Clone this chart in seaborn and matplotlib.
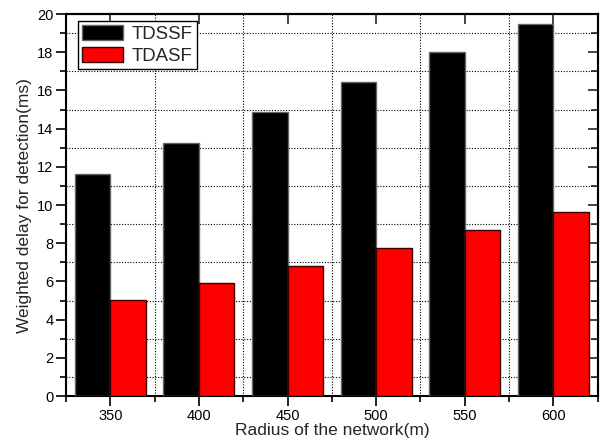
import matplotlib
matplotlib.use("Agg")
import matplotlib.pyplot as plt
from matplotlib.ticker import MultipleLocator, FixedLocator
import seaborn as sns
import pandas as pd

# Detection delay per network radius for the two schemes
radius = [350, 400, 450, 500, 550, 600]
tdssf = [11.62, 13.26, 14.85, 16.46, 18.0, 19.46]
tdasf = [5.03, 5.92, 6.81, 7.73, 8.67, 9.65]
series_names = ["TDSSF", "TDASF"]
series_colors = ["#000000", "#ff0000"]
edge_colors = ["#666666", "#3a0000"]
y_ticks = [0, 2, 4, 6, 8, 10, 12, 14, 16, 18, 20]

df = pd.DataFrame({
    "radius": radius * 2,
    "delay": tdssf + tdasf,
    "scheme": [series_names[0]] * len(radius) + [series_names[1]] * len(radius),
})

sns.set_style("white")
plt.rcParams["font.family"] = ["Liberation Sans", "DejaVu Sans"]

fig = plt.figure(figsize=(6.05, 4.41), dpi=100)
ax = fig.add_axes([0.109, 0.102, 0.879, 0.866])

sns.barplot(data=df, x="radius", y="delay", hue="scheme", hue_order=series_names,
            palette=series_colors, native_scale=True, width=0.8, gap=0,
            saturation=1, errorbar=None, ax=ax, legend=True)

for cont, ec in zip(ax.containers, edge_colors):
    for bar in cont:
        bar.set_edgecolor(ec)
        bar.set_linewidth(1.0)
        bar.set_zorder(3)

ax.set_xlim(325, 625)
ax.set_ylim(0, 20)
ax.xaxis.set_major_locator(FixedLocator(radius))
ax.xaxis.set_minor_locator(FixedLocator([r + 25 for r in radius[:-1]] + [325, 625]))
ax.yaxis.set_major_locator(FixedLocator(y_ticks))
ax.yaxis.set_minor_locator(FixedLocator([v + 1 for v in y_ticks[:-1]]))
ax.set_xticklabels([str(r) for r in radius])

# dotted grid on the minor positions
ax.grid(False)
ax.grid(True, which="minor", color="black", linestyle=(0, (1, 1.5)), linewidth=0.8, zorder=1)
ax.set_axisbelow(True)

for s in ax.spines.values():
    s.set_visible(True)
    s.set_color("black")
    s.set_linewidth(1.5)

ax.tick_params(axis="both", which="both", colors="black", labelsize=10.5, width=1.2)
ax.tick_params(axis="x", which="major", direction="out", length=7, bottom=True, top=False, pad=2.5)
ax.tick_params(axis="x", which="minor", direction="out", length=4, bottom=True, top=False)
ax.tick_params(axis="y", which="major", direction="out", length=7, left=True, right=False, pad=2)
ax.tick_params(axis="y", which="minor", direction="out", length=4, left=True, right=False)

# top and right edges carry inward ticks
sec_x = ax.secondary_xaxis("top")
sec_x.xaxis.set_major_locator(FixedLocator(radius))
sec_x.tick_params(direction="in", length=7, width=1.2, labeltop=False)
sec_y = ax.secondary_yaxis("right")
sec_y.yaxis.set_major_locator(FixedLocator(y_ticks))
sec_y.yaxis.set_minor_locator(MultipleLocator(1))
sec_y.tick_params(which="major", direction="in", length=7, width=1.2, labelright=False)
sec_y.tick_params(which="minor", direction="in", length=5, width=1.2)
for s in list(sec_x.spines.values()) + list(sec_y.spines.values()):
    s.set_linewidth(1.5)

ax.set_xlabel("Radius of the network(m)", fontsize=12.5, labelpad=0)
ax.set_ylabel("Weighted delay for detection(ms)", fontsize=12.5, labelpad=4)

handles, labels = ax.get_legend_handles_labels()
for h, ec in zip(handles, edge_colors):
    h.set_edgecolor(ec)
    h.set_linewidth(1.0)
leg = ax.legend(handles, labels, loc="upper left", bbox_to_anchor=(0.023, 0.981),
                fontsize=13.4, frameon=True, fancybox=False, edgecolor="black",
                framealpha=1, handlelength=2.2, handleheight=0.85, handletextpad=0.45,
                borderpad=0.22, labelspacing=0.22, borderaxespad=0.0)
leg.get_frame().set_linewidth(1.0)
leg.set_zorder(5)

fig.savefig("out.png", dpi=100)
